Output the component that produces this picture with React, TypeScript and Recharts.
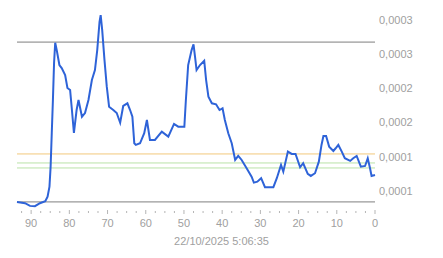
import React from "react";
import { LineChart, Line, XAxis, YAxis, ReferenceLine } from "recharts";

const ago: number[] = [
  93.7, 91.6, 90.3, 89.0, 87.7, 86.3, 85.7, 85.2, 84.9, 84.6, 84.3, 84.0, 83.7, 83.3, 82.6, 82.0,
  81.1, 80.5, 79.8, 79.4, 78.8, 78.1, 77.6, 76.7, 75.9, 75.0, 74.1, 73.3, 72.7, 72.1, 71.8, 71.4,
  70.8, 70.2, 69.6, 68.5, 67.6, 66.7, 65.9, 64.8, 64.1, 63.5, 63.0, 62.6, 61.5, 60.4, 59.7, 58.9,
  57.6, 55.8, 54.1, 52.6, 51.5, 49.9, 49.5, 48.9, 48.0, 47.5, 47.1, 46.7, 45.8, 44.7, 44.2, 43.6,
  42.7, 41.6, 40.7, 39.9, 39.3, 38.4, 37.5, 36.6, 35.8, 34.9, 33.6, 32.3, 31.7, 30.8, 29.8, 28.8,
  27.7, 26.6, 25.7, 24.6, 24.0, 22.8, 21.8, 20.8, 19.6, 18.8, 17.6, 16.8, 15.7, 14.7, 14.0, 13.5,
  12.8, 12.0, 10.9, 10.3, 9.6, 8.7, 7.9, 6.5, 5.7, 4.8, 3.7, 2.6, 1.9, 1.3, 0.9, 0,
];

const price: number[] = [
  0.839e-4, 0.82e-4, 0.781e-4, 0.776e-4, 0.82e-4, 0.849e-4, 0.917e-4, 1.063e-4, 1.355e-4, 1.848e-4,
  2.33e-4, 2.871e-4, 3.168e-4, 3.061e-4, 2.842e-4, 2.798e-4, 2.696e-4, 2.506e-4, 2.477e-4, 2.232e-4,
  1.848e-4, 2.184e-4, 2.33e-4, 2.086e-4, 2.14e-4, 2.33e-4, 2.623e-4, 2.769e-4, 3.061e-4, 3.475e-4,
  3.573e-4, 3.354e-4, 2.915e-4, 2.525e-4, 2.232e-4, 2.184e-4, 2.14e-4, 1.998e-4, 2.243e-4, 2.282e-4,
  2.184e-4, 2.086e-4, 1.697e-4, 1.673e-4, 1.697e-4, 1.844e-4, 2.038e-4, 1.746e-4, 1.746e-4, 1.867e-4,
  1.794e-4, 1.98e-4, 1.94e-4, 1.94e-4, 2.33e-4, 2.842e-4, 3.061e-4, 3.145e-4, 2.963e-4, 2.769e-4,
  2.842e-4, 2.905e-4, 2.623e-4, 2.379e-4, 2.282e-4, 2.268e-4, 2.184e-4, 2.209e-4, 2.038e-4, 1.844e-4,
  1.697e-4, 1.453e-4, 1.512e-4, 1.453e-4, 1.332e-4, 1.209e-4, 1.121e-4, 1.136e-4, 1.186e-4, 1.054e-4,
  1.054e-4, 1.054e-4, 1.186e-4, 1.38e-4, 1.282e-4, 1.575e-4, 1.541e-4, 1.541e-4, 1.346e-4, 1.405e-4,
  1.249e-4, 1.219e-4, 1.259e-4, 1.428e-4, 1.673e-4, 1.804e-4, 1.804e-4, 1.648e-4, 1.585e-4, 1.624e-4,
  1.673e-4, 1.575e-4, 1.478e-4, 1.439e-4, 1.478e-4, 1.512e-4, 1.355e-4, 1.365e-4, 1.478e-4, 1.332e-4,
  1.219e-4, 1.234e-4,
];

const xTicks: number[] = [
  0, 2.5, 5, 7.5, 10, 12.5, 15, 17.5, 20, 22.5, 25, 27.5, 30, 32.5, 35, 37.5, 40, 42.5, 45, 47.5,
  50, 52.5, 55, 57.5, 60, 62.5, 65, 67.5, 70, 72.5, 75, 77.5, 80, 82.5, 85, 87.5, 90, 92.5,
];
const xLabelTicks: number[] = [0, 10, 20, 30, 40, 50, 60, 70, 80, 90];

const yTicks: number[] = [0.0001, 0.00015, 0.0002, 0.00025, 0.0003, 0.00035];
const yTickLabels: string[] = ["0,0001", "0,0001", "0,0002", "0,0002", "0,0003", "0,0003"];

const refHigh = 3.178e-4;
const refLow = 0.839e-4;
const refOrange = 1.541e-4;
const refGreen1 = 1.409e-4;
const refGreen2 = 1.336e-4;

const title = "22/10/2025 5:06:35";

const data = ago.map((a, i) => ({ ago: a, price: price[i] }));

const FONT = "Arial, 'Liberation Sans', sans-serif";

const XTick = (props: any) => {
  const { x, y, payload } = props;
  const v = payload.value as number;
  const major = xLabelTicks.includes(v);
  return (
    <g>
      <line
        x1={x}
        x2={x}
        y1={y + (major ? 2 : 3)}
        y2={y + (major ? 6 : 5)}
        stroke="#b5b5b5"
        strokeWidth={1}
      />
      {major && (
        <text x={x} y={y + 19} textAnchor="middle" fill="#a0a0a0" fontSize={11} fontFamily={FONT}>
          {String(v)}
        </text>
      )}
    </g>
  );
};

const TitleLabel = (props: any) => {
  const vb = props.viewBox || { x: 17, y: 208, width: 358 };
  return (
    <text
      x={221.5}
      y={vb.y + 37}
      textAnchor="middle"
      fill="#a0a0a0"
      fontSize={11}
      fontFamily={FONT}
    >
      {title}
    </text>
  );
};

export default function App() {
  return (
    <div style={{ position: "absolute", left: 0, top: 0, background: "#fff" }}>
      <LineChart
        width={443}
        height={258}
        data={data}
        margin={{ top: 3, right: 0, left: 17, bottom: 0 }}
      >
        <XAxis
          dataKey="ago"
          type="number"
          reversed
          domain={[0, 93.7]}
          ticks={xTicks}
          interval={0}
          axisLine={false}
          tickLine={false}
          tickSize={0}
          tickMargin={0}
          height={50}
          tick={<XTick />}
          label={<TitleLabel />}
        />
        <YAxis
          orientation="right"
          type="number"
          domain={[0.000075, 0.000375]}
          ticks={yTicks}
          interval={0}
          axisLine={false}
          tickLine={false}
          tickSize={4}
          tickMargin={0}
          width={68}
          tick={{ fill: "#a0a0a0", fontSize: 11, fontFamily: FONT, textAnchor: "start" }}
          tickFormatter={(v: number) => {
            const idx = yTicks.findIndex((t) => Math.abs(t - v) < 1e-9);
            return idx >= 0 ? yTickLabels[idx] : "";
          }}
        />
        <ReferenceLine y={refHigh} stroke="#7f7f7f" strokeWidth={1} ifOverflow="visible" />
        <ReferenceLine y={refLow} stroke="#7f7f7f" strokeWidth={1} ifOverflow="visible" />
        <ReferenceLine y={refOrange} stroke="#f2c87c" strokeWidth={1} ifOverflow="visible" />
        <ReferenceLine y={refGreen1} stroke="#b9e2a8" strokeWidth={1} ifOverflow="visible" />
        <ReferenceLine y={refGreen2} stroke="#b9e2a8" strokeWidth={1} ifOverflow="visible" />
        <Line
          dataKey="price"
          type="linear"
          stroke="#2e63d8"
          strokeWidth={2}
          dot={false}
          isAnimationActive={false}
        />
      </LineChart>
    </div>
  );
}
